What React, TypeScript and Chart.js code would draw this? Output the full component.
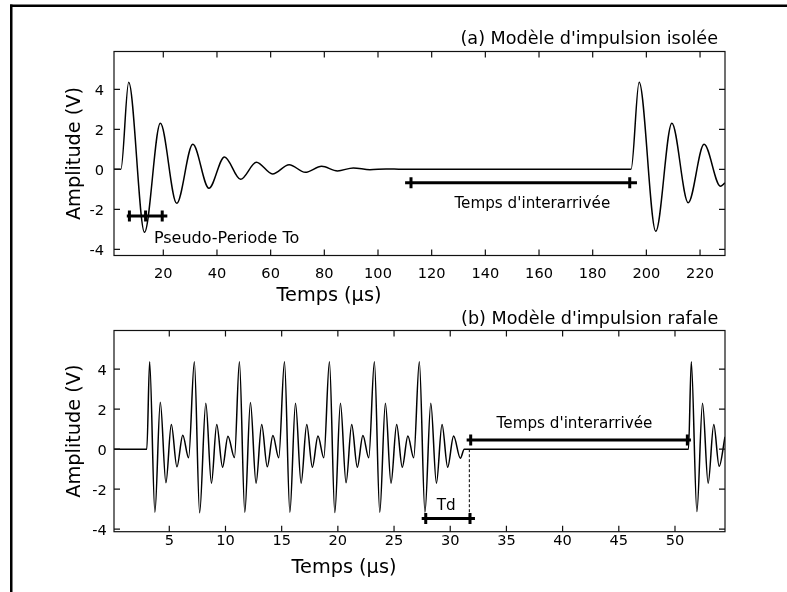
import { useEffect, useRef } from "react";
import { Chart, registerables } from "chart.js";

Chart.register(...registerables);

const FONT = '"DejaVu Sans", Verdana, sans-serif';

// ---------- Panel (a): isolated pulse ----------
const timeA = [1.63, 4.2, 7.1, 13.0, 18.9, 25.0, 31.0, 37.0, 42.8, 48.8, 54.7, 60.7, 66.9, 72.9, 79.0, 84.9, 90.8, 97.0, 103.0, 109.0, 194.3, 197.3, 203.5, 209.5, 215.6, 221.5, 227.6, 229.3];
const ampA = [0, 0, 4.35, -3.15, 2.3, -1.7, 1.25, -0.95, 0.62, -0.5, 0.35, -0.23, 0.23, -0.15, 0.15, -0.08, 0.07, -0.02, 0.02, 0, 0, 4.35, -3.1, 2.3, -1.67, 1.25, -0.85, -0.68];
const xTicksA = [20, 40, 60, 80, 100, 120, 140, 160, 180, 200, 220];
const yTicksA = [-4, -2, 0, 2, 4];
const periodBarX = [6.4, 21.5];
const periodBarY = -2.33;
const periodMarksX = [7.37, 13.4, 19.6];
const interBarAX = [110.1, 196.5];
const interBarAY = -0.67;
const interMarksAX = [112.3, 193.8];

// ---------- Panel (b): burst pulses ----------
const timeB = [0.08, 3, 3.25, 3.72, 4.2, 4.7, 5.18, 5.68, 6.2, 6.72,
  7.23, 7.7, 8.25, 8.75, 9.22, 9.74, 10.22, 10.8,
  11.24, 11.72, 12.22, 12.72, 13.22, 13.72, 14.22, 14.74,
  15.25, 15.73, 16.23, 16.73, 17.23, 17.73, 18.23, 18.75,
  19.25, 19.73, 20.23, 20.73, 21.23, 21.73, 22.23, 22.75,
  23.25, 23.73, 24.23, 24.73, 25.23, 25.73, 26.23, 26.75,
  27.25, 27.75, 28.27, 28.77, 29.27, 29.77, 30.3, 30.9, 31.25,
  51.2, 51.45, 51.95, 52.45, 52.95, 53.45, 53.93, 54.45];
const ampB = [0, 0, 4.37, -3.15, 2.35, -1.68, 1.23, -0.88, 0.7, -0.43,
  4.37, -3.18, 2.3, -1.7, 1.23, -0.9, 0.65, -0.42,
  4.37, -3.15, 2.33, -1.7, 1.23, -0.88, 0.68, -0.43,
  4.37, -3.15, 2.3, -1.7, 1.23, -0.9, 0.66, -0.43,
  4.37, -3.17, 2.3, -1.68, 1.23, -0.9, 0.68, -0.43,
  4.37, -3.15, 2.3, -1.7, 1.23, -0.9, 0.66, -0.43,
  4.37, -3.15, 2.3, -1.7, 1.23, -0.9, 0.66, -0.45, 0,
  0, 4.37, -3.12, 2.3, -1.7, 1.23, -0.85, 0.62];
const xTicksB = [5, 10, 15, 20, 25, 30, 35, 40, 45, 50];
const yTicksB = [-4, -2, 0, 2, 4];
const tdBarX = [27.46, 32.2];
const tdBarY = -3.47;
const tdMarksX = [27.82, 31.76];
const tdDashX = 31.7;
const tdDashY = [0, -3.47];
const interBarBX = [31.46, 51.42];
const interBarBY = 0.46;
const interMarksBX = [31.82, 51.1];

type TextNote = { text: string; x: number; y: number; align: CanvasTextAlign; size: number };

type Panel = {
  area: { left: number; top: number; right: number; bottom: number };
  xMin: number; xMax: number; yMin: number; yMax: number;
  xTicks: number[]; yTicks: number[];
  title: string; titleRightInset: number; titleAbove: number;
  xLabelCenter: number; xLabelBaseline: number;
  xTickBaseline: number; yTickGap: number;
  notes: TextNote[];
  drawFrame: boolean;
  datasets: any[];
};

const pts = (xs: number[], ys: number[]) => xs.map((x, i) => ({ x, y: ys[i] }));
const hBar = (xs: number[], y: number) => xs.map((x) => ({ x, y }));

const signalStyle = {
  borderColor: "#000",
  borderWidth: 1.5,
  pointRadius: 0,
  fill: false,
  cubicInterpolationMode: "monotone",
  order: 10,
};
const barStyle = { borderColor: "#000", borderWidth: 3, pointRadius: 0, fill: false, order: 2 };
const markStyle = {
  showLine: false,
  borderColor: "#000",
  backgroundColor: "#000",
  pointStyle: "line",
  rotation: 90,
  pointRadius: 5.5,
  pointBorderWidth: 3,
  order: 1,
};

const panelA: Panel = {
  area: { left: 114, top: 51.5, right: 725, bottom: 255.5 },
  xMin: 1.63, xMax: 229.3, yMin: -4.31, yMax: 5.89,
  xTicks: xTicksA, yTicks: yTicksA,
  title: "(a) Modèle d'impulsion isolée", titleRightInset: 7, titleAbove: 8,
  xLabelCenter: 329, xLabelBaseline: 300.5,
  xTickBaseline: 22.2, yTickGap: 10,
  drawFrame: true,
  notes: [
    { text: "Pseudo-Periode To", x: 16.5, y: -3.69, align: "left", size: 16 },
    { text: "Temps d'interarrivée", x: 157.5, y: -1.95, align: "center", size: 15.2 },
  ],
  datasets: [
    { ...signalStyle, data: pts(timeA, ampA) },
    { ...barStyle, data: hBar(periodBarX, periodBarY) },
    { ...markStyle, data: hBar(periodMarksX, periodBarY) },
    { ...barStyle, data: hBar(interBarAX, interBarAY) },
    { ...markStyle, data: hBar(interMarksAX, interBarAY) },
  ],
};

const panelB: Panel = {
  area: { left: 114, top: 330.5, right: 725, bottom: 531.7 },
  xMin: 0.08, xMax: 54.45, yMin: -4.125, yMax: 5.935,
  xTicks: xTicksB, yTicks: yTicksB,
  title: "(b) Modèle d'impulsion rafale", titleRightInset: 6.7, titleAbove: 6.5,
  xLabelCenter: 344, xLabelBaseline: 572.5,
  xTickBaseline: 13.5, yTickGap: 7.3,
  drawFrame: false,
  notes: [
    { text: "Temps d'interarrivée", x: 41.06, y: 1.075, align: "center", size: 15.2 },
    { text: "Td", x: 29.64, y: -3.04, align: "center", size: 15.2 },
  ],
  datasets: [
    { ...signalStyle, data: pts(timeB, ampB) },
    { ...barStyle, data: hBar(tdBarX, tdBarY) },
    { ...markStyle, data: hBar(tdMarksX, tdBarY) },
    { ...barStyle, data: hBar(interBarBX, interBarBY) },
    { ...markStyle, data: hBar(interMarksBX, interBarBY) },
    { borderColor: "#000", borderWidth: 1, borderDash: [3, 2], pointRadius: 0, fill: false, order: 3, data: tdDashY.map((y) => ({ x: tdDashX, y })) },
  ],
};

const W = 787;
const H = 592;

function makeAxesPlugin(p: Panel) {
  return {
    id: "matlabAxes",
    afterDraw(chart: any) {
      const { ctx, chartArea: a } = chart;
      const xs = chart.scales.x;
      const ys = chart.scales.y;
      ctx.save();
      ctx.fillStyle = "#000";
      if (p.drawFrame) {
        ctx.fillRect(10, 4.5, W - 10, 2.5);
        ctx.fillRect(10, 4.5, 2.5, H - 4.5);
      }
      // box
      ctx.strokeStyle = "#111";
      ctx.lineWidth = 1.2;
      ctx.strokeRect(a.left, a.top, a.right - a.left, a.bottom - a.top);
      // inward ticks on all sides
      const tl = 6;
      ctx.beginPath();
      for (const v of p.xTicks) {
        const px = xs.getPixelForValue(v);
        ctx.moveTo(px, a.bottom);
        ctx.lineTo(px, a.bottom - tl);
        ctx.moveTo(px, a.top);
        ctx.lineTo(px, a.top + tl);
      }
      for (const v of p.yTicks) {
        const py = ys.getPixelForValue(v);
        ctx.moveTo(a.left, py);
        ctx.lineTo(a.left + tl, py);
        ctx.moveTo(a.right, py);
        ctx.lineTo(a.right - tl, py);
      }
      ctx.stroke();
      // tick labels
      const tickSize = 14.6;
      ctx.font = `${tickSize}px ${FONT}`;
      ctx.textBaseline = "alphabetic";
      ctx.textAlign = "center";
      for (const v of p.xTicks) {
        ctx.fillText(String(v), xs.getPixelForValue(v), a.bottom + p.xTickBaseline);
      }
      ctx.textAlign = "right";
      for (const v of p.yTicks) {
        ctx.fillText(String(v), a.left - p.yTickGap, ys.getPixelForValue(v) + tickSize * 0.3645);
      }
      // title
      ctx.font = `17.6px ${FONT}`;
      ctx.textAlign = "right";
      ctx.fillText(p.title, a.right - p.titleRightInset, a.top - p.titleAbove);
      // axis labels
      ctx.font = `19.3px ${FONT}`;
      ctx.textAlign = "center";
      ctx.fillText("Temps (µs)", p.xLabelCenter, p.xLabelBaseline);
      ctx.save();
      ctx.translate(80, (a.top + a.bottom) / 2);
      ctx.rotate(-Math.PI / 2);
      ctx.fillText("Amplitude (V)", 0, 0);
      ctx.restore();
      // annotation texts placed in data coordinates
      for (const n of p.notes) {
        ctx.font = `${n.size}px ${FONT}`;
        ctx.textAlign = n.align;
        ctx.fillText(n.text, xs.getPixelForValue(n.x), ys.getPixelForValue(n.y));
      }
      ctx.restore();
    },
  };
}

function PanelChart({ panel }: { panel: Panel }) {
  const ref = useRef<HTMLCanvasElement | null>(null);
  useEffect(() => {
    if (!ref.current) return;
    const a = panel.area;
    const chart = new Chart(ref.current, {
      type: "line",
      data: { datasets: panel.datasets },
      options: {
        animation: false,
        responsive: false,
        devicePixelRatio: 1,
        events: [],
        layout: {
          autoPadding: false,
          padding: { left: a.left, top: a.top, right: W - a.right, bottom: H - a.bottom },
        },
        plugins: { legend: { display: false }, tooltip: { enabled: false }, title: { display: false } },
        scales: {
          x: { type: "linear", display: false, min: panel.xMin, max: panel.xMax },
          y: { type: "linear", display: false, min: panel.yMin, max: panel.yMax },
        },
      } as any,
      plugins: [makeAxesPlugin(panel)],
    } as any);
    return () => chart.destroy();
  }, [panel]);
  return (
    <canvas
      ref={ref}
      width={W}
      height={H}
      style={{ position: "absolute", left: 0, top: 0, width: W, height: H }}
    />
  );
}

export default function App() {
  return (
    <div style={{ position: "absolute", left: 0, top: 0, width: W, height: H, background: "#fff", overflow: "hidden" }}>
      <PanelChart panel={panelA} />
      <PanelChart panel={panelB} />
    </div>
  );
}
